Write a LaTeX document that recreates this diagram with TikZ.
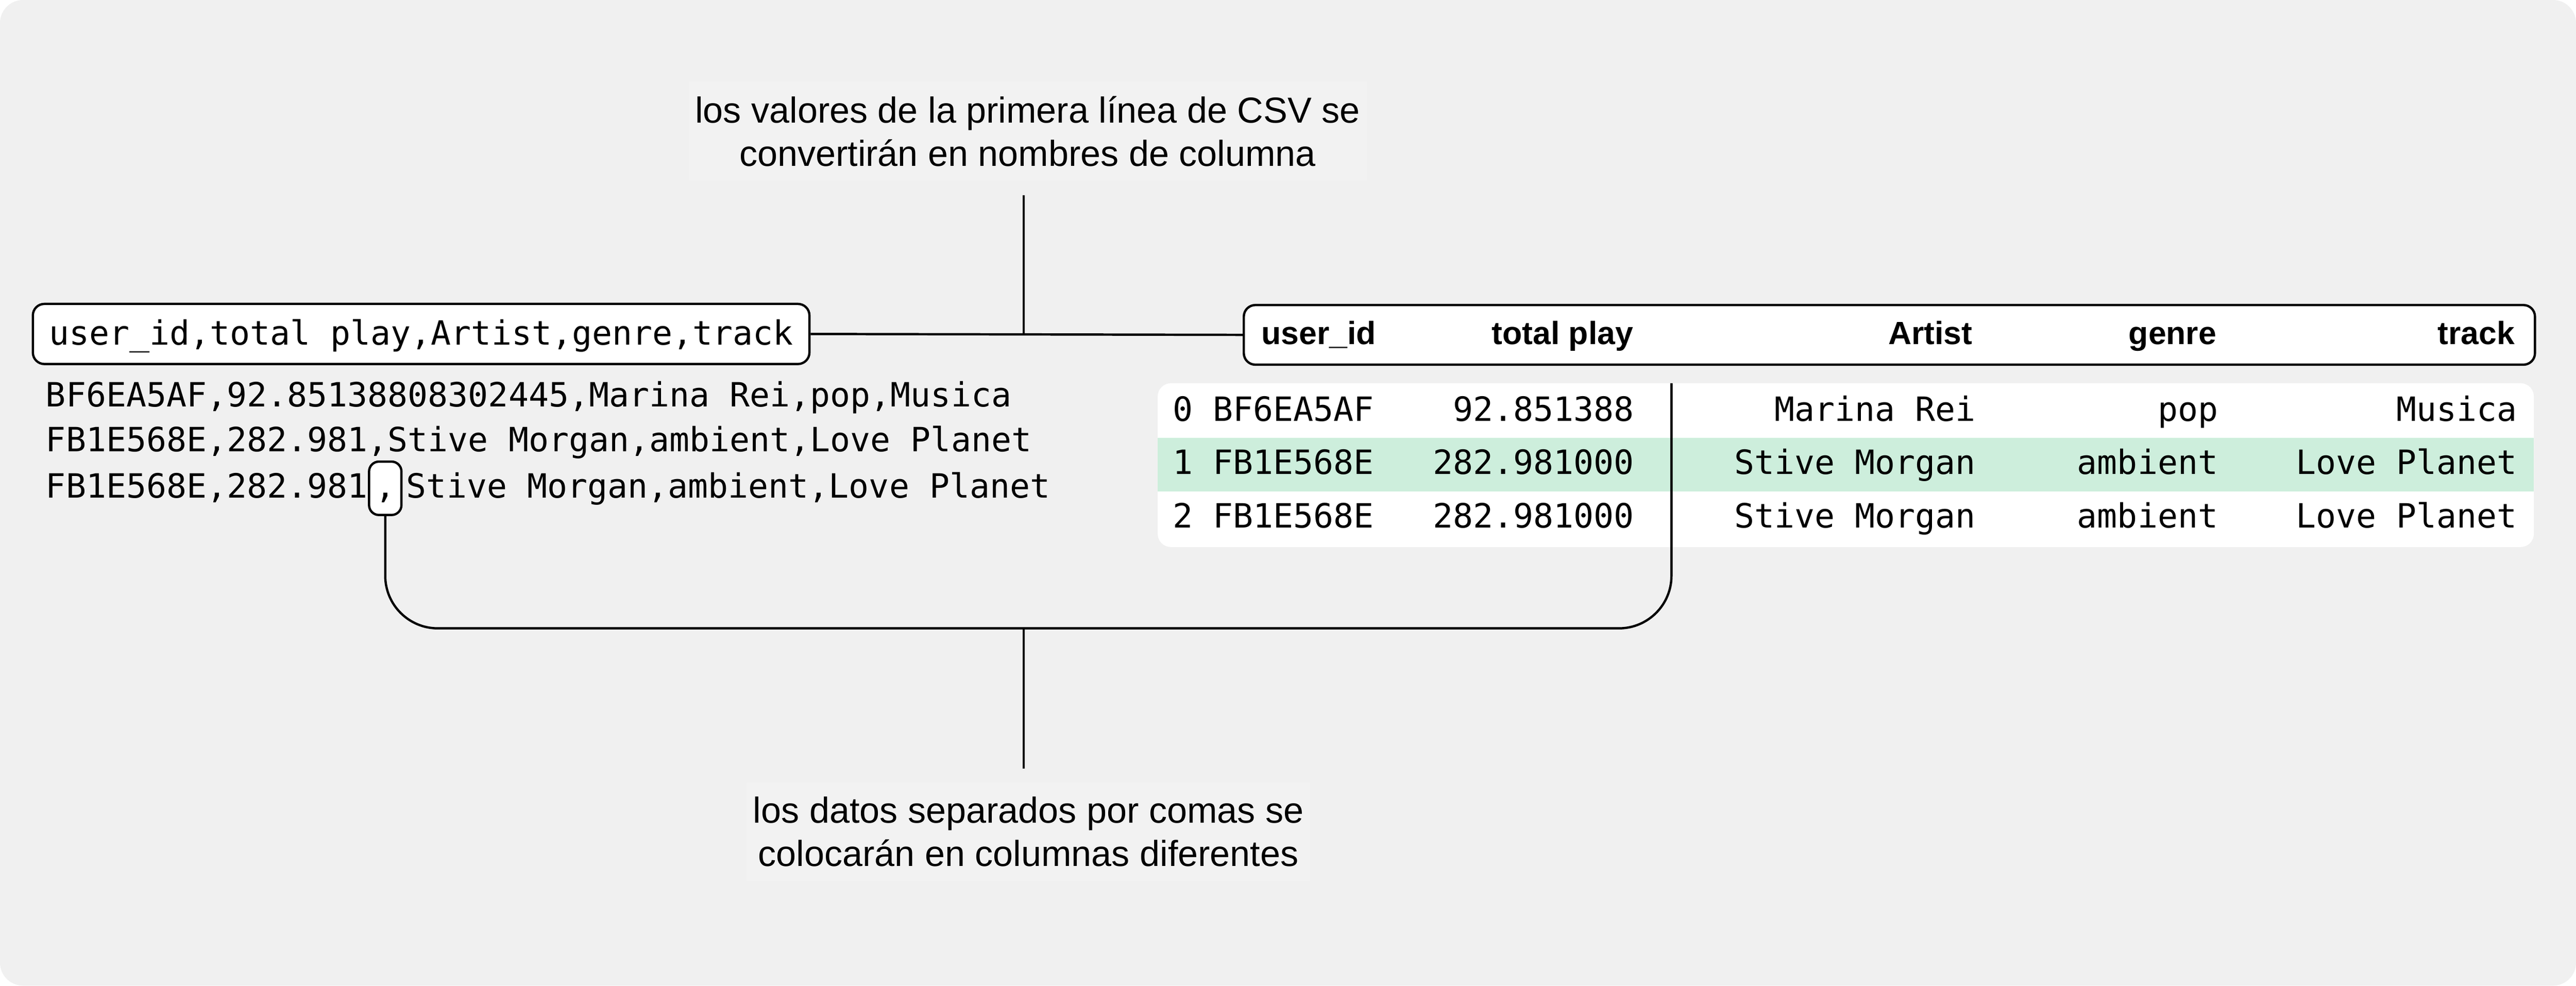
\documentclass[tikz,border=0pt]{standalone}
\usepackage{fontspec}
\setmainfont{Liberation Sans}
\setmonofont{DejaVu Sans Mono}
\definecolor{pagebg}{HTML}{F0F0F0}
\definecolor{notebg}{HTML}{F2F2F2}
\definecolor{rowgreen}{HTML}{CDEEDC}
\begin{document}
\begin{tikzpicture}[x=0.5pt,y=-0.5pt,
  conn/.style={line width=0.7pt, draw=black},
  boxed/.style={draw=black, line width=0.7pt, fill=white, rounded corners=3.5pt},
  mono/.style={font=\ttfamily\fontsize{10.17pt}{12pt}\selectfont, inner sep=0pt, text=black},
  hdrtext/.style={font=\bfseries\fontsize{9.8pt}{12pt}\selectfont, inner sep=0pt},
  note/.style={font=\fontsize{11pt}{13.2pt}\selectfont, align=center, fill=notebg, inner xsep=2pt, inner ysep=4.4pt}]
\useasboundingbox (0,0) rectangle (1568,600);
\fill[pagebg, rounded corners=7pt] (0,0) rectangle (1568,600);

% notes
\node[note, anchor=south] (topnote) at (625.5,110.5) {los valores de la primera línea de CSV se\\convertirán en nombres de columna};
\node[note, anchor=north, inner ysep=4.3pt] (botnote) at (626,476) {los datos separados por comas se\\colocarán en columnas diferentes};

% CSV header box
\node[mono, boxed, anchor=base west, inner xsep=4.9pt, inner ysep=0pt, text height=12.55pt, text depth=5.75pt] (csvhead) at (19.3,210.1) {user\_id,total play,Artist,genre,track};

% table header box
\node[boxed, anchor=north west, minimum width=392.95pt, minimum height=18.15pt, inner sep=0pt] (hdrbox) at (756.4,185) {};
\node[hdrtext, anchor=base west] (h1) at (767.5,209.5) {user\_id};
\node[hdrtext, anchor=base east] (h2) at (994.5,209.5) {total play};
\node[hdrtext, anchor=base east] (h3) at (1201,209.5) {Artist};
\node[hdrtext, anchor=base east] (h4) at (1349.5,209.5) {genre};
\node[hdrtext, anchor=base east] (h5) at (1531,209.5) {track};

% connectors at the top
\coordinate (jn) at (623.1,203.2);
\draw[conn] (csvhead.east) -- (hdrbox.west);
\draw[conn, shorten <=4.25pt] (topnote.south -| jn) -- (jn);

% CSV lines
\node[mono, anchor=base west] (csvA) at (27.5,247.5) {BF6EA5AF,92.85138808302445,Marina Rei,pop,Musica};
\node[mono, anchor=base west] (csvB) at (27.5,275) {FB1E568E,282.981,Stive Morgan,ambient,Love Planet};
\node[mono, anchor=base west] (csvC) at (27.5,303) {FB1E568E,282.981};
\node[mono, boxed, anchor=base, minimum width=9.85pt, text height=11.1pt, text depth=5.15pt, rounded corners=3pt] (comma) at (234.5,303.2) {,};
\node[mono, anchor=base west] (csvD) at (247,303) {Stive Morgan,ambient,Love Planet};

% table body
\fill[white, rounded corners=4pt] (704.7,233.3) rectangle (1542.3,333);
\fill[rowgreen] (704.7,266.4) rectangle (1542.3,299.2);

\node[mono, anchor=base west] (r0a) at (713.5,256.3) {0 BF6EA5AF};
\node[mono, anchor=base east] (r0b) at (995,256.3) {92.851388};
\node[mono, anchor=base east] (r0c) at (1203,256.3) {Marina Rei};
\node[mono, anchor=base east] (r0d) at (1350.5,256.3) {pop};
\node[mono, anchor=base east] (r0e) at (1532.5,256.3) {Musica};

\node[mono, anchor=base west] (r1a) at (713.5,288.7) {1 FB1E568E};
\node[mono, anchor=base east] (r1b) at (995,288.7) {282.981000};
\node[mono, anchor=base east] (r1c) at (1203,288.7) {Stive Morgan};
\node[mono, anchor=base east] (r1d) at (1350.5,288.7) {ambient};
\node[mono, anchor=base east] (r1e) at (1532.5,288.7) {Love Planet};

\node[mono, anchor=base west] (r2a) at (713.5,321.4) {2 FB1E568E};
\node[mono, anchor=base east] (r2b) at (995,321.4) {282.981000};
\node[mono, anchor=base east] (r2c) at (1203,321.4) {Stive Morgan};
\node[mono, anchor=base east] (r2d) at (1350.5,321.4) {ambient};
\node[mono, anchor=base east] (r2e) at (1532.5,321.4) {Love Planet};

% bracket from the comma to the column divider
\coordinate (bmid) at (623.1,382.5);
\coordinate (divtop) at (1017.4,233.3);
\draw[conn, rounded corners=16pt] (comma.south) |- (bmid) -| (divtop);
\draw[conn, shorten >=4pt] (bmid) -- (bmid |- botnote.north);
\end{tikzpicture}
\end{document}
